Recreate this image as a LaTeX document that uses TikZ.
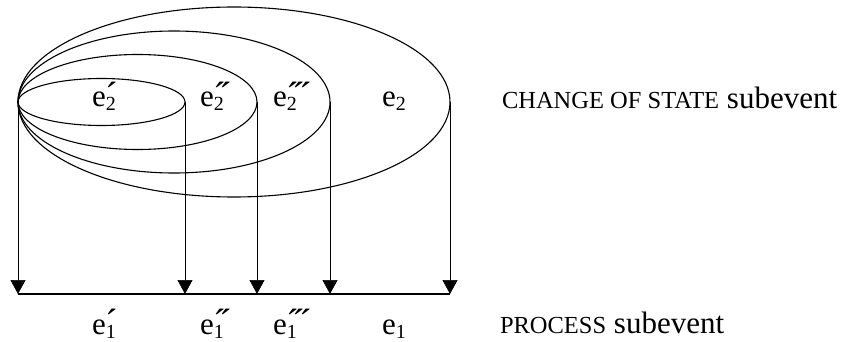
\documentclass[tikz,border=0pt]{standalone}
\usepackage{fontspec}
\setmainfont{Liberation Serif}
\usetikzlibrary{shapes.geometric,arrows.meta}
% e with subscript #1 and primes #2 stacked above the subscript
\newcommand\evt[2]{e\rlap{\raisebox{-4pt}{\fontsize{20}{20}\selectfont #1}}\rlap{\raisebox{-1.5pt}{\fontsize{38}{38}\selectfont\kern0pt #2}}\hspace{10pt}}
\newcommand\pa{´}
\newcommand\pb{´\kern-6.5pt´}
\newcommand\pc{´\kern-6.5pt´\kern-6.5pt´}
\begin{document}
\begin{tikzpicture}[x=1pt,y=-1pt,
  every node/.style={font=\fontsize{31}{36}\selectfont, inner sep=0pt, outer sep=0pt},
  oval/.style={ellipse, draw, line width=1.1pt, outer sep=0pt, inner sep=0pt},
  arr/.style={line width=0.6pt, -{Triangle[width=15pt,length=14pt]}},
  baseline/.style={line width=1.7pt},
  lab/.style={anchor=base west}]
\useasboundingbox (0,0) rectangle (854,342);
% ellipses (change of state subevents)
\node[oval, minimum width=432pt, minimum height=190pt] (E4) at (234,102) {};
\node[oval, minimum width=312pt, minimum height=142pt] (E3) at (174,102) {};
\node[oval, minimum width=239pt, minimum height=95pt]  (E2) at (137.5,102) {};
\node[oval, minimum width=167pt, minimum height=47pt]  (E1) at (101.5,102) {};
% process line
\coordinate (LL) at (18,294);
\coordinate (LR) at (450,294);
\draw[baseline] (LL) -- (LR);
% arrows
\draw[arr] (E1.west) -- (E1.west |- LL);
\draw[arr] (E1.east) -- (E1.east |- LL);
\draw[arr] (E2.east) -- (E2.east |- LL);
\draw[arr] (E3.east) -- (E3.east |- LL);
\draw[arr] (E4.east) -- (E4.east |- LL);
% labels in ellipses
\node[lab] (t1) at (92,107)  {\evt{2}{\pa}};
\node[lab] (t2) at (200,107) {\evt{2}{\pb}};
\node[lab] (t3) at (273,107) {\evt{2}{\pc}};
\node[lab] (t4) at (382,107) {\evt{2}{}};
% labels under the line
\node[lab] (b1) at (92,334)  {\evt{1}{\pa}};
\node[lab] (b2) at (200,334) {\evt{1}{\pb}};
\node[lab] (b3) at (273,334) {\evt{1}{\pc}};
\node[lab] (b4) at (382,334) {\evt{1}{}};
% right-hand captions
\node[lab] (cs) at (502,109) {{\fontsize{24.5}{24}\selectfont CHANGE OF STATE} subevent};
\node[lab] (ps) at (500,333) {{\fontsize{24.5}{24}\selectfont PROCESS} subevent};
\end{tikzpicture}
\end{document}
